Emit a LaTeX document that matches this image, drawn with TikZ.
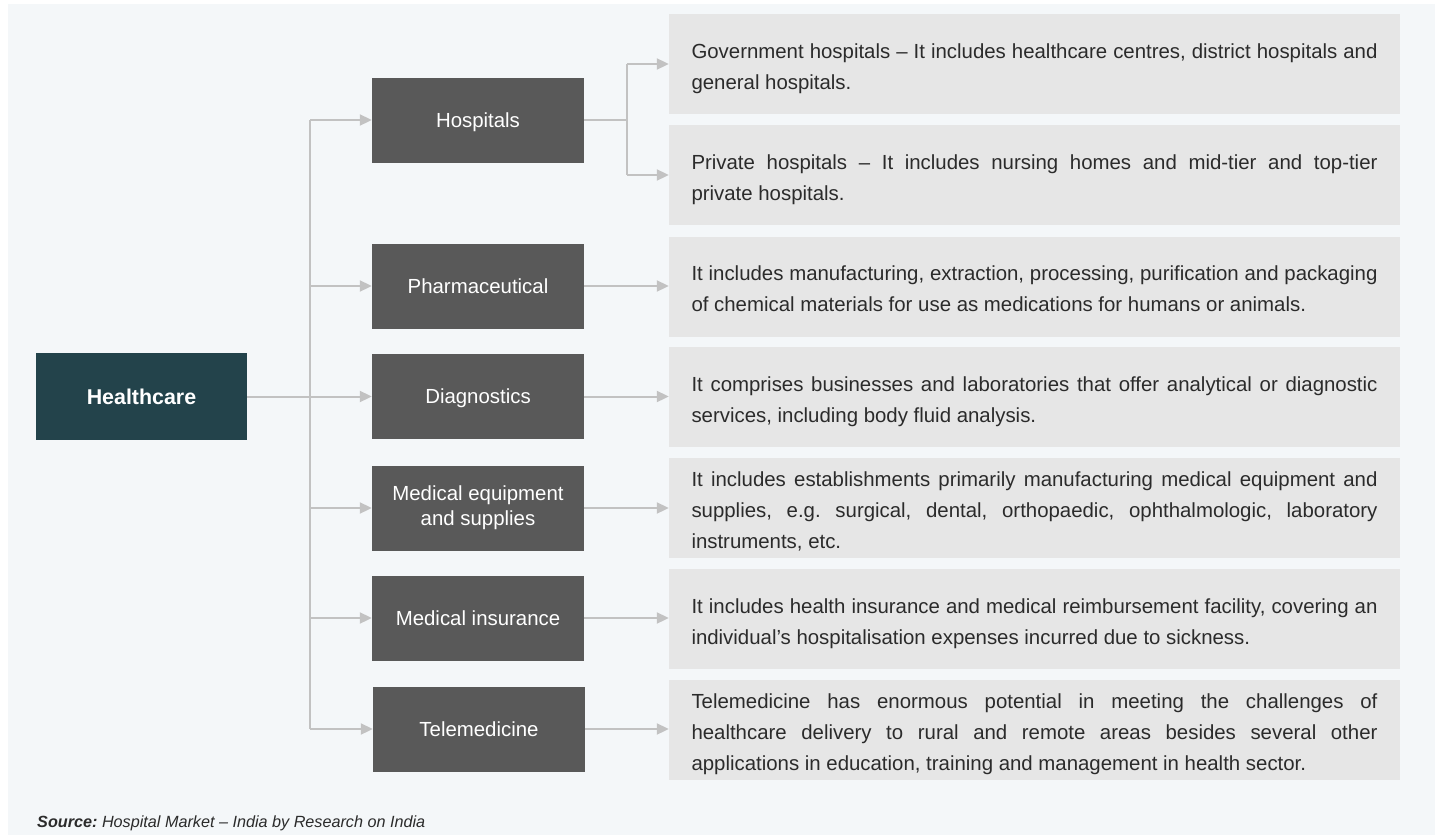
\documentclass[tikz,border=0pt]{standalone}
\usepackage{fontspec}
\setmainfont{Liberation Sans}
\usetikzlibrary{arrows.meta,calc}
\definecolor{bgc}{HTML}{F4F7F9}
\definecolor{teal}{HTML}{23434B}
\definecolor{catc}{HTML}{595959}
\definecolor{descc}{HTML}{E6E6E6}
\definecolor{linec}{HTML}{C2C2C2}
\definecolor{txtc}{HTML}{2B2B2B}
\hyphenpenalty=10000
\exhyphenpenalty=10000
\frenchspacing
\newcommand\catstrut{\rule[-5pt]{0pt}{24.6pt}}
\newcommand\descstrut{\rule[-6pt]{0pt}{31pt}}
\begin{document}
\begin{tikzpicture}[x=1pt,y=-1pt,
  root/.style={fill=teal,text=white,minimum width=211pt,minimum height=87pt,inner sep=0pt,font=\fontsize{21.4}{25}\selectfont\bfseries},
  cat/.style={fill=catc,text=white,minimum width=212pt,minimum height=85pt,inner sep=0pt,align=center,font=\fontsize{20.4}{25}\selectfont,
    execute at begin node=\catstrut, execute at end node=\catstrut},
  desc/.style={fill=descc,text=txtc,minimum width=731pt,minimum height=100pt,inner sep=0pt,text width=686pt,align=justify,font=\fontsize{20.4}{31}\selectfont,
    execute at begin node=\descstrut, execute at end node=\descstrut},
  conn/.style={draw=linec,line width=2pt},
  arr/.style={conn,-{Triangle[length=12pt,width=11pt]},shorten >=0pt}
]
\useasboundingbox (0,0) rectangle (1438,835);
\fill[bgc] (8,4) rectangle (1435,835);

\node[root] (hc) at (141.5,396.5) {Healthcare};

\node[cat] (hosp) at (478,120) {Hospitals};
\node[cat] (pharm) at (478,286) {Pharmaceutical};
\node[cat] (diag) at (478,396.5) {Diagnostics};
\node[cat] (medeq) at (478,508) {Medical equipment\\and supplies};
\node[cat] (ins) at (478,618) {Medical insurance};
\node[cat] (tele) at (479,729) {Telemedicine};

\node[desc] (gov) at (1034.5,64) {Government hospitals -- It includes healthcare centres, district hospitals and\linebreak general hospitals.};
\node[desc] (priv) at (1034.5,175) {Private hospitals -- It includes nursing homes and mid-tier and top-tier\linebreak private hospitals.};
\node[desc] (dpharm) at (1034.5,286.5) {It includes manufacturing, extraction, processing, purification and packaging\linebreak of chemical materials for use as medications for humans or animals.};
\node[desc] (ddiag) at (1034.5,397) {It comprises businesses and laboratories that offer analytical or diagnostic\linebreak services, including body fluid analysis.};
\node[desc] (dmedeq) at (1034.5,508) {It includes establishments primarily manufacturing medical equipment and\linebreak supplies, e.g. surgical, dental, orthopaedic, ophthalmologic, laboratory\linebreak instruments, etc.};
\node[desc] (dins) at (1034.5,619) {It includes health insurance and medical reimbursement facility, covering an\linebreak individual’s hospitalisation expenses incurred due to sickness.};
\node[desc] (dtele) at (1034.5,730) {Telemedicine has enormous potential in meeting the challenges of\linebreak healthcare delivery to rural and remote areas besides several other\linebreak applications in education, training and management in health sector.};

% spine
\coordinate (sp) at (310,396.5);
\coordinate (hb) at (627,120);
\draw[conn] (hc.east) -- (sp);
\draw[conn] (hosp.west -| sp) -- (tele.west -| sp);
\foreach \n in {hosp,pharm,diag,medeq,ins,tele}
  \draw[arr] (\n.west -| sp) -- (\n.west);

% hospitals branch
\draw[conn] (hosp.east) -- (hb);
\draw[conn] (gov.west -| hb) -- (priv.west -| hb);
\draw[arr] (gov.west -| hb) -- (gov.west);
\draw[arr] (priv.west -| hb) -- (priv.west);

\foreach \a/\b in {pharm/dpharm,diag/ddiag,medeq/dmedeq,ins/dins,tele/dtele}
  \draw[arr] (\a.east) -- (\a.east -| \b.west);

\node[anchor=base west,text=txtc,font=\fontsize{16.2}{19}\selectfont\itshape,inner sep=0pt] (src) at (37,827) {\textbf{Source:}~Hospital Market -- India by Research on India};
\end{tikzpicture}
\end{document}
